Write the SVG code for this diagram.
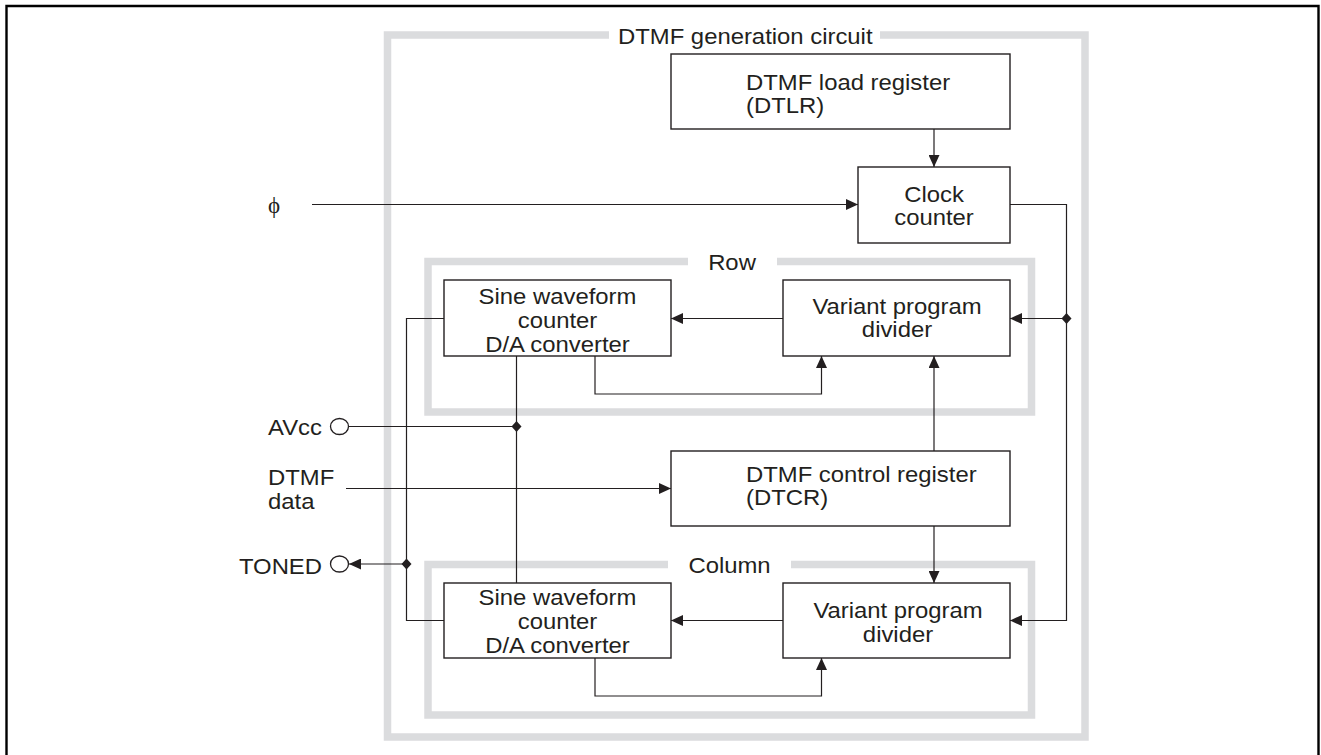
<svg xmlns="http://www.w3.org/2000/svg" width="1321" height="755" viewBox="0 0 1321 755">
<style>
.frame{fill:none;stroke:#dbdcde;stroke-width:7.5;stroke-linejoin:miter;stroke-linecap:butt}
.box{fill:#fff;stroke:#231f20;stroke-width:1.4}
.ln{fill:none;stroke:#231f20;stroke-width:1.2}
.t{font-family:"Liberation Sans",Arial,sans-serif;font-size:22px;fill:#231f20}
.m{text-anchor:middle}
.e{text-anchor:end}
.dot{fill:#231f20}
.pin{fill:#fff;stroke:#231f20;stroke-width:1.3}
</style>
<defs>
<marker id="arr" markerUnits="userSpaceOnUse" markerWidth="12" markerHeight="11" refX="12" refY="5.5" orient="auto" viewBox="0 0 12 11">
<path d="M0,0 L12,5.5 L0,11 z" fill="#231f20"/>
</marker>
</defs>
<rect width="1321" height="755" fill="#fff"/>
<path d="M6.5,755 V6 H1318.5 V755" fill="none" stroke="#000" stroke-width="2.4"/>

<g id="frames">
<path class="frame" d="M609,35 H387.5 V737 H1085 V35 H880"/>
<path class="frame" d="M688,261.5 H428 V412 H1031.5 V261.5 H777"/>
<path class="frame" d="M668,564.5 H428 V715 H1031.5 V564.5 H791"/>
<text class="t" transform="translate(618,43.5) scale(1.085,1)">DTMF generation circuit</text>
<text class="t m" transform="translate(732,270) scale(1.085,1)">Row</text>
<text class="t m" transform="translate(729.5,573) scale(1.085,1)">Column</text>
</g>

<g id="connectors">
<line class="ln" x1="312" y1="204.5" x2="858" y2="204.5" marker-end="url(#arr)"/>
<line class="ln" x1="934" y1="129" x2="934" y2="167" marker-end="url(#arr)"/>
<path class="ln" d="M1010,204.5 H1066.5 V620.5 H1010" marker-end="url(#arr)"/>
<line class="ln" x1="1066.5" y1="318.5" x2="1010" y2="318.5" marker-end="url(#arr)"/>
<path class="dot" d="M1066.5,313 L1071.5,318.5 L1066.5,324 L1061.5,318.5 z"/>
<line class="ln" x1="783" y1="318.5" x2="671" y2="318.5" marker-end="url(#arr)"/>
<path class="ln" d="M595,356 V394 H821.5 V356" marker-end="url(#arr)"/>
<line class="ln" x1="934" y1="451" x2="934" y2="356" marker-end="url(#arr)"/>
<line class="ln" x1="934" y1="526" x2="934" y2="583" marker-end="url(#arr)"/>
<line class="ln" x1="783" y1="620.5" x2="671" y2="620.5" marker-end="url(#arr)"/>
<path class="ln" d="M595,658 V696 H821.5 V658" marker-end="url(#arr)"/>
<line class="ln" x1="346" y1="488.5" x2="671" y2="488.5" marker-end="url(#arr)"/>
<line class="ln" x1="348.5" y1="426.5" x2="516.5" y2="426.5"/>
<line class="ln" x1="516.5" y1="356" x2="516.5" y2="583"/>
<path class="dot" d="M516.5,421 L521.5,426.5 L516.5,432 L511.5,426.5 z"/>
<path class="ln" d="M444,318.5 H406.5 V620.5 H444"/>
<line class="ln" x1="406.5" y1="564" x2="349" y2="564" marker-end="url(#arr)"/>
<path class="dot" d="M406.5,558.5 L411.5,564 L406.5,569.5 L401.5,564 z"/>
</g>

<g id="dtlr">
<rect class="box" x="671" y="54" width="339" height="75"/>
<text class="t" transform="translate(746,89.5) scale(1.085,1)">DTMF load register</text>
<text class="t" transform="translate(746,112.5) scale(1.085,1)">(DTLR)</text>
</g>

<g id="clock">
<rect class="box" x="858" y="167" width="152" height="76"/>
<text class="t m" transform="translate(934,201.5) scale(1.085,1)">Clock</text>
<text class="t m" transform="translate(934,225) scale(1.085,1)">counter</text>
</g>

<g id="row-sine">
<rect class="box" x="444" y="280" width="227" height="76"/>
<text class="t m" transform="translate(557.5,304) scale(1.085,1)">Sine waveform</text>
<text class="t m" transform="translate(557.5,328) scale(1.085,1)">counter</text>
<text class="t m" transform="translate(557.5,352) scale(1.085,1)">D/A converter</text>
</g>

<g id="row-vpd">
<rect class="box" x="783" y="280" width="227" height="76"/>
<text class="t m" transform="translate(897,313.5) scale(1.085,1)">Variant program</text>
<text class="t m" transform="translate(897,337) scale(1.085,1)">divider</text>
</g>

<g id="dtcr">
<rect class="box" x="671" y="451" width="339" height="75"/>
<text class="t" transform="translate(746,481.5) scale(1.085,1)">DTMF control register</text>
<text class="t" transform="translate(746,505) scale(1.085,1)">(DTCR)</text>
</g>

<g id="col-sine">
<rect class="box" x="444" y="583" width="227" height="75"/>
<text class="t m" transform="translate(557.5,605) scale(1.085,1)">Sine waveform</text>
<text class="t m" transform="translate(557.5,629) scale(1.085,1)">counter</text>
<text class="t m" transform="translate(557.5,653) scale(1.085,1)">D/A converter</text>
</g>

<g id="col-vpd">
<rect class="box" x="783" y="583" width="227" height="75"/>
<text class="t m" transform="translate(898,618) scale(1.085,1)">Variant program</text>
<text class="t m" transform="translate(898,641.5) scale(1.085,1)">divider</text>
</g>

<g id="phi">
<text transform="translate(274,213)" text-anchor="middle" style="font-family:'Liberation Serif','DejaVu Serif',serif;font-size:23px;fill:#231f20">ϕ</text>
</g>

<g id="avcc">
<ellipse class="pin" cx="339.5" cy="426.5" rx="9" ry="8"/>
<text class="t" transform="translate(268,434.5) scale(1.085,1)">AVcc</text>
</g>

<g id="dtmf-data">
<text class="t" transform="translate(268,485) scale(1.085,1)">DTMF</text>
<text class="t" transform="translate(268,509) scale(1.085,1)">data</text>
</g>

<g id="toned">
<ellipse class="pin" cx="339.5" cy="564" rx="9" ry="8"/>
<text class="t e" transform="translate(322,574) scale(1.085,1)">TONED</text>
</g>
</svg>
